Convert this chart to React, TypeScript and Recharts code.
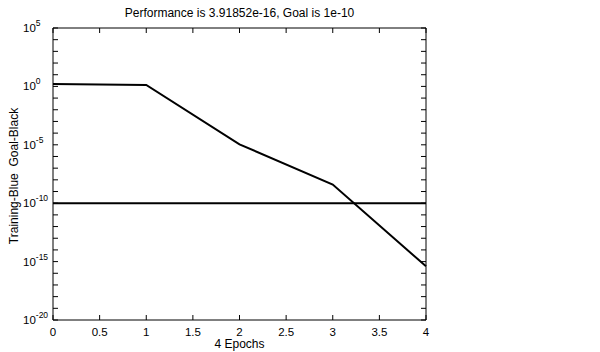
import { LineChart, Line, XAxis, YAxis } from 'recharts';

const epochs = [0, 1, 2, 3, 4];
const performance = [1.6, 1.35, 1.1e-5, 4e-9, 3.91852e-16];
const goal = [1e-10, 1e-10, 1e-10, 1e-10, 1e-10];

const X_TICKS = [0, 0.5, 1, 1.5, 2, 2.5, 3, 3.5, 4];
const Y_TICK_EXPONENTS = [
  5, 4, 3, 2, 1, 0, -1, -2, -3, -4, -5, -6, -7, -8, -9, -10, -11, -12, -13, -14, -15, -16, -17, -18, -19, -20,
];
const Y_TICKS = Y_TICK_EXPONENTS.map((e) => Math.pow(10, e));

const data = epochs.map((epoch, i) => ({ epoch, perf: performance[i], goal: goal[i] }));

const FONT = '"Liberation Sans", Arial, Helvetica, sans-serif';

// ticks point inward, like the matlab plot box
const LeftTick = (props: any) => {
  const { x, y, payload } = props;
  const exp = Math.round(Math.log10(payload.value));
  return (
    <g>
      <line x1={x} x2={x + 5} y1={y} y2={y} stroke="#000" />
      {exp % 5 === 0 && (
        <text x={x - 30} y={y + 4} fontSize={11.5} fontFamily={FONT} fill="#000">
          10
          <tspan dy={-6} fontSize={8.5}>
            {exp}
          </tspan>
        </text>
      )}
    </g>
  );
};

const RightTick = (props: any) => {
  const { x, y } = props;
  return <line x1={x} x2={x - 5} y1={y} y2={y} stroke="#000" />;
};

const BottomTick = (props: any) => {
  const { x, y, payload } = props;
  return (
    <g>
      <line x1={x} x2={x} y1={y} y2={y - 5} stroke="#000" />
      <text x={x} y={y + 16} textAnchor="middle" fontSize={11.5} fontFamily={FONT} fill="#000">
        {payload.value}
      </text>
    </g>
  );
};

const TopTick = (props: any) => {
  const { x, y } = props;
  return <line x1={x} x2={x} y1={y} y2={y + 5} stroke="#000" />;
};

export default function App() {
  return (
    <div style={{ position: 'absolute', left: 0, top: 0, width: 600, height: 352, background: '#fff' }}>
      <LineChart width={600} height={352} data={data} margin={{ top: 27, right: 173, bottom: 31, left: 52 }}>
        <XAxis
          xAxisId="b"
          dataKey="epoch"
          type="number"
          domain={[0, 4]}
          ticks={X_TICKS}
          interval={0}
          height={1}
          tickSize={0}
          tickMargin={0}
          tickLine={false}
          axisLine={{ stroke: '#000' }}
          tick={<BottomTick />}
        />
        <XAxis
          xAxisId="t"
          orientation="top"
          dataKey="epoch"
          type="number"
          domain={[0, 4]}
          ticks={X_TICKS}
          interval={0}
          height={1}
          tickSize={0}
          tickMargin={0}
          tickLine={false}
          axisLine={{ stroke: '#000' }}
          tick={<TopTick />}
        />
        <YAxis
          yAxisId="l"
          scale="log"
          type="number"
          domain={[1e-20, 1e5]}
          ticks={Y_TICKS}
          interval={0}
          width={1}
          tickSize={0}
          tickMargin={0}
          tickLine={false}
          axisLine={{ stroke: '#000' }}
          tick={<LeftTick />}
          allowDataOverflow
        />
        <YAxis
          yAxisId="r"
          orientation="right"
          scale="log"
          type="number"
          domain={[1e-20, 1e5]}
          ticks={Y_TICKS}
          interval={0}
          width={1}
          tickSize={0}
          tickMargin={0}
          tickLine={false}
          axisLine={{ stroke: '#000' }}
          tick={<RightTick />}
          allowDataOverflow
        />
        <Line
          xAxisId="t"
          yAxisId="r"
          dataKey="goal"
          type="linear"
          stroke="#000"
          strokeWidth={2}
          dot={false}
          isAnimationActive={false}
        />
        <Line
          xAxisId="b"
          yAxisId="l"
          dataKey="perf"
          type="linear"
          stroke="#000"
          strokeWidth={2}
          dot={false}
          isAnimationActive={false}
        />
      </LineChart>
      <div
        style={{
          position: 'absolute',
          left: 53,
          width: 373,
          top: 6,
          textAlign: 'center',
          fontFamily: FONT,
          fontSize: 12,
          lineHeight: '14px',
        }}
      >
        Performance is 3.91852e-16, Goal is 1e-10
      </div>
      <div
        style={{
          position: 'absolute',
          left: 53,
          width: 373,
          top: 337,
          textAlign: 'center',
          fontFamily: FONT,
          fontSize: 12,
          lineHeight: '14px',
        }}
      >
        4 Epochs
      </div>
      <div
        style={{
          position: 'absolute',
          left: 14 - 100,
          top: 176 - 7,
          width: 200,
          textAlign: 'center',
          fontFamily: FONT,
          fontSize: 12,
          lineHeight: '14px',
          whiteSpace: 'pre',
          transform: 'rotate(-90deg)',
        }}
      >
        {'Training-Blue  Goal-Black'}
      </div>
    </div>
  );
}
